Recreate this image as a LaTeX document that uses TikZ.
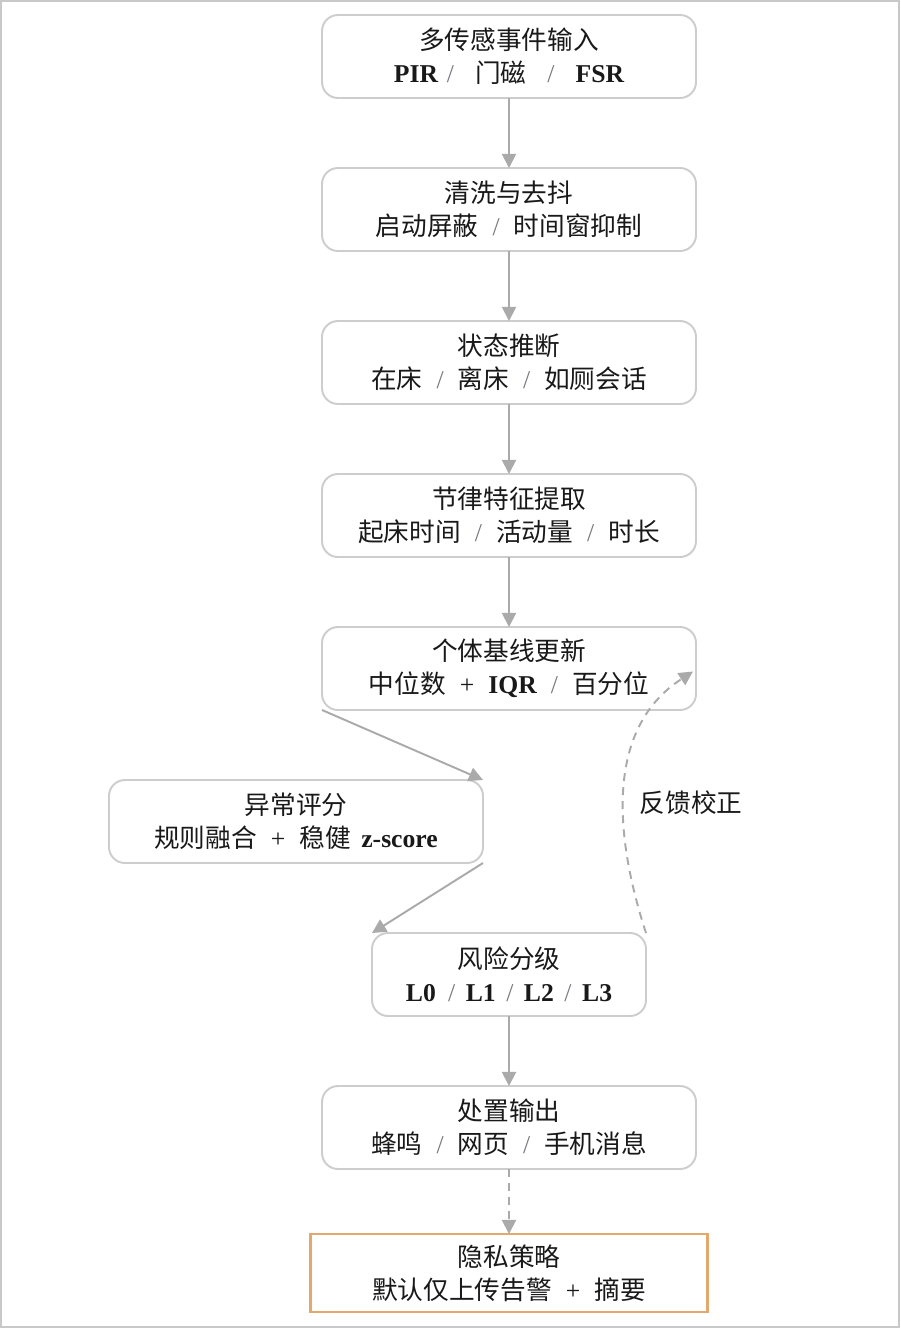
\documentclass[tikz,border=0pt]{standalone}
\usepackage{fontspec}
\setmainfont{Noto Sans CJK SC}
\newfontfamily\latin{Liberation Serif}
\usepackage{xcolor}
\definecolor{BoxGray}{RGB}{205, 205, 205}
\definecolor{ArrowGray}{RGB}{170, 170, 170}
\definecolor{PrivOrange}{RGB}{226, 168, 108}
\definecolor{TextDark}{RGB}{25, 25, 25}
\definecolor{SlashGray}{RGB}{120, 120, 130}
\usepackage{tikz}
\usetikzlibrary{arrows.meta, positioning}

\newcommand{\sepslash}{{\latin\color{SlashGray}/}}
\newcommand{\slsep}{\hspace{8pt}\sepslash\hspace{8pt}}
\newcommand{\plsep}{\hspace{8pt}{\latin +}\hspace{8pt}}
\newcommand{\lat}[1]{{\latin\bfseries #1}}

\begin{document}
\begin{tikzpicture}[
        node distance=1.4cm,
        comp/.style={rectangle, draw=BoxGray, line width=1.1pt, outer sep=0pt, fill=white, rounded corners=0.32cm, minimum width=7.48cm, minimum height=1.66cm, align=center, text=TextDark, font=\fontsize{14.6pt}{19pt}\selectfont},
        priv/.style={comp, rounded corners=0pt, draw=PrivOrange, line width=1.3pt, minimum width=7.94cm, minimum height=1.56cm},
        link/.style={-{Triangle[length=8pt, width=8pt]}, line width=1.1pt, color=ArrowGray},
        fb/.style={link, dashed, dash pattern=on 4.5pt off 3.5pt}
    ]
        % --- FRAME ---
        \useasboundingbox (0,0) rectangle (18,-26.56);
        \draw[BoxGray!80!black!60, line width=1.2pt] (0.02,-0.02) rectangle (17.98,-26.54);

        % --- PIPELINE ---
        \node[comp] (input) at (10.18,-1.13) {多传感事件输入\\\lat{PIR}\hspace{5pt}\sepslash\hspace{12pt}门磁\hspace{12pt}\sepslash\hspace{12pt}\lat{FSR}};
        \node[comp, below=of input] (clean) {清洗与去抖\\启动屏蔽\slsep 时间窗抑制};
        \node[comp, below=of clean] (state) {状态推断\\在床\slsep 离床\slsep 如厕会话};
        \node[comp, below=of state] (rhythm) {节律特征提取\\起床时间\slsep 活动量\slsep 时长};
        \node[comp, below=of rhythm] (base) {个体基线更新\\中位数\plsep\lat{IQR}\slsep 百分位};
        \node[comp, below=of base, xshift=-4.26cm] (score) {异常评分\\规则融合\plsep 稳健\hspace{6pt}\lat{z-score}};
        \node[comp, below=of score, xshift=4.26cm, minimum width=5.48cm] (risk) {风险分级\\\lat{L0}\hspace{7pt}\sepslash\hspace{6pt}\lat{L1}\hspace{6pt}\sepslash\hspace{6pt}\lat{L2}\hspace{6pt}\sepslash\hspace{6pt}\lat{L3}};
        \node[comp, below=of risk] (out) {处置输出\\蜂鸣\slsep 网页\slsep 手机消息};
        \node[priv, below=1.3cm of out] (priv) {隐私策略\\默认仅上传告警\plsep 摘要};

        % --- CONNECTIONS ---
        \draw[link] (input) -- (clean);
        \draw[link] (clean) -- (state);
        \draw[link] (state) -- (rhythm);
        \draw[link] (rhythm) -- (base);
        \draw[link] (base.south west) -- (score.north east);
        \draw[link] (score.south east) -- (risk.north west);
        \draw[link] (risk) -- (out);
        \draw[fb] (out) -- (priv);

        % feedback loop
        \draw[fb] (risk.north east) to[out=108, in=213] ([xshift=-0.06cm, yshift=-0.06cm]base.east);
        \node[text=TextDark, font=\fontsize{14.6pt}{19pt}\selectfont] (fbl) at (13.82,-16.06) {反馈校正};
    \end{tikzpicture}
\end{document}
